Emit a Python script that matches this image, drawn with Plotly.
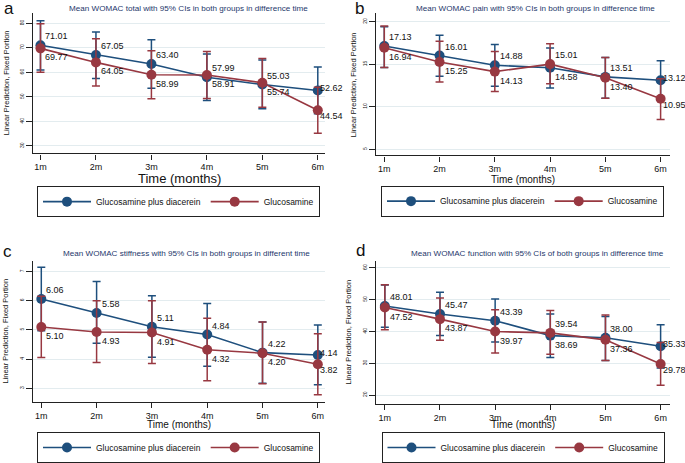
import plotly.graph_objects as go

# ---------------- data ----------------
MONTHS = [1, 2, 3, 4, 5, 6]
TICK_LABELS = ["1m", "2m", "3m", "4m", "5m", "6m"]
SERIES_NAMES = ["Glucosamine plus diacerein", "Glucosamine"]

# panel a: WOMAC total
A_COMBO = [71.01, 67.05, 63.40, 57.99, 55.03, 52.62]
A_COMBO_LO = [61.0, 57.5, 53.5, 48.5, 45.2, 43.1]
A_COMBO_HI = [81.0, 76.4, 73.3, 67.5, 65.0, 62.2]
A_GLU = [69.77, 64.05, 58.99, 58.91, 55.74, 44.54]
A_GLU_LO = [60.0, 54.4, 49.2, 49.3, 45.8, 35.2]
A_GLU_HI = [79.8, 73.7, 68.8, 68.5, 65.6, 53.9]
A_YTICKS = [30, 40, 50, 60, 70, 80]

# panel b: WOMAC pain
B_COMBO = [17.13, 16.01, 14.88, 14.58, 13.51, 13.12]
B_COMBO_LO = [14.6, 13.6, 12.4, 12.2, 11.0, 10.8]
B_COMBO_HI = [19.4, 18.4, 17.3, 16.9, 15.8, 15.4]
B_GLU = [16.94, 15.25, 14.13, 15.01, 13.40, 10.95]
B_GLU_LO = [14.6, 12.9, 11.8, 12.7, 11.0, 8.5]
B_GLU_HI = [19.5, 17.7, 16.5, 17.4, 15.8, 13.3]
B_YTICKS = [5, 10, 15, 20]

# panel c: WOMAC stiffness
C_COMBO = [6.06, 5.58, 5.11, 4.84, 4.22, 4.14]
C_COMBO_LO = [4.97, 4.54, 4.06, 3.75, 3.17, 3.12]
C_COMBO_HI = [7.15, 6.66, 6.17, 5.90, 5.27, 5.17]
C_GLU = [5.10, 4.93, 4.91, 4.32, 4.20, 3.82]
C_GLU_LO = [4.05, 3.88, 3.85, 3.26, 3.15, 2.78]
C_GLU_HI = [6.15, 6.00, 6.00, 5.40, 5.27, 4.87]
C_YTICKS = [3, 4, 5, 6, 7]

# panel d: WOMAC function
D_COMBO = [48.01, 45.47, 43.39, 38.69, 38.00, 35.33]
D_COMBO_LO = [41.3, 38.7, 36.7, 31.8, 30.9, 28.5]
D_COMBO_HI = [54.6, 52.3, 50.2, 45.5, 44.7, 42.1]
D_GLU = [47.52, 43.87, 39.97, 39.54, 37.36, 29.78]
D_GLU_LO = [40.5, 37.2, 33.2, 32.8, 30.9, 23.1]
D_GLU_HI = [54.7, 50.5, 46.8, 46.6, 45.2, 36.5]
D_YTICKS = [20, 30, 40, 50, 60]

TITLES = [
    "Mean WOMAC total with 95% CIs in both groups in difference time",
    "Mean WOMAC pain with 95% CIs in both groups in difference time",
    "Mean WOMAC stiffness with 95% CIs in both groups in different time",
    "Mean WOMAC function with 95% CIs of both groups in difference time",
]
LETTERS = ["a", "b", "c", "d"]
X_TITLE = "Time (months)"
Y_TITLE = "Linear Prediction, Fixed Portion"

# ---------------- style / layout ----------------
W, H = 685, 463
FONT = "Liberation Sans, Arial, sans-serif"
BLUE = "#1e4f7d"
RED = "#983841"
GRID = "#e3ecef"
TITLE_COLOR = "#24376b"

# which series' label sits on top at each month ('c' combo / 'g' glucosamine)
TOP_LABEL = [
    ["c"] * 6,
    ["c", "c", "c", "g", "c", "c"],
    ["c"] * 6,
    ["c", "c", "c", "g", "c", "c"],
]

# pixel boxes: (left, right, top, bottom), x range, y range
PANELS = [
    dict(box=(33, 325, 13, 154), xr=[0.865, 6.13], yr=[27.0, 84.2],
         title_xy=(188, 9), letter_xy=(9, 9), ytitle_x=6, xtitle_y=179, xtitle_size=13,
         legend_c=(178.5, 202.5)),
    dict(box=(376, 670, 13, 156), xr=[0.85, 6.17], yr=[4.3, 21.02],
         title_xy=(535, 9), letter_xy=(359, 9), ytitle_x=353, xtitle_y=180, xtitle_size=10,
         legend_c=(522.5, 202)),
    dict(box=(33, 325, 262, 404), xr=[0.85, 6.13], yr=[2.52, 7.365],
         title_xy=(187, 255), letter_xy=(8, 253), ytitle_x=6, xtitle_y=426, xtitle_size=10,
         legend_c=(178.5, 449.5)),
    dict(box=(376, 670, 262, 406), xr=[0.84, 6.17], yr=[17.1, 62.2],
         title_xy=(537, 255), letter_xy=(360, 252), ytitle_x=349, xtitle_y=426, xtitle_size=10,
         legend_c=(523, 449.5)),
]

DATA = [
    (A_COMBO, A_COMBO_LO, A_COMBO_HI, A_GLU, A_GLU_LO, A_GLU_HI, A_YTICKS),
    (B_COMBO, B_COMBO_LO, B_COMBO_HI, B_GLU, B_GLU_LO, B_GLU_HI, B_YTICKS),
    (C_COMBO, C_COMBO_LO, C_COMBO_HI, C_GLU, C_GLU_LO, C_GLU_HI, C_YTICKS),
    (D_COMBO, D_COMBO_LO, D_COMBO_HI, D_GLU, D_GLU_LO, D_GLU_HI, D_YTICKS),
]


def px(x):
    return x / W


def py(y):
    return 1 - y / H


fig = go.Figure()
annotations = []
layout = {}

for i, (panel, data) in enumerate(zip(PANELS, DATA)):
    combo, combo_lo, combo_hi, glu, glu_lo, glu_hi, yticks = data
    n = "" if i == 0 else str(i + 1)
    xa, ya = "x" + n, "y" + n
    leg = "legend" + n
    l, r, t, b = panel["box"]

    for name, vals, lo, hi, color in [
        (SERIES_NAMES[0], combo, combo_lo, combo_hi, BLUE),
        (SERIES_NAMES[1], glu, glu_lo, glu_hi, RED),
    ]:
        fig.add_trace(go.Scatter(
            x=MONTHS, y=vals, name=name, mode="lines+markers",
            xaxis=xa, yaxis=ya, legend=leg, cliponaxis=False,
            line=dict(color=color, width=1.6),
            marker=dict(color=color, size=10, symbol="circle"),
            error_y=dict(type="data", symmetric=False,
                         array=[h - v for h, v in zip(hi, vals)],
                         arrayminus=[v - lo_ for v, lo_ in zip(vals, lo)],
                         color=color, thickness=1.5, width=4),
            hoverinfo="skip",
        ))

    # data labels
    for k, m in enumerate(MONTHS):
        top_is_combo = TOP_LABEL[i][k] == "c"
        top_v = combo[k] if top_is_combo else glu[k]
        bot_v = glu[k] if top_is_combo else combo[k]
        last = k == len(MONTHS) - 1
        for v, ys in [(top_v, 2 if last else 9), (bot_v, -6 if last else -9)]:
            annotations.append(dict(
                x=m, y=v, xref=xa, yref=ya, text=f"{v:.2f}", showarrow=False,
                xanchor="left", yanchor="middle", xshift=1 if last else 4, yshift=ys,
                borderpad=0,
                font=dict(family=FONT, size=9, color="#111111"),
            ))

    axis_common = dict(showline=True, linecolor="#222222", linewidth=1.4,
                       ticks="outside", tickcolor="#222222", tickwidth=1.2,
                       zeroline=False, mirror=False)
    layout["xaxis" + n] = dict(
        domain=[px(l), px(r)], range=panel["xr"], anchor=ya,
        tickvals=MONTHS, ticktext=TICK_LABELS, ticklen=5, showgrid=False,
        tickfont=dict(family=FONT, size=9, color="#111111"), **axis_common)
    layout["yaxis" + n] = dict(
        domain=[py(b), py(t)], range=panel["yr"], anchor=xa,
        tickvals=yticks, ticklen=6, tickangle=-90, showgrid=True, gridcolor=GRID,
        gridwidth=1, tickfont=dict(family=FONT, size=5, color="#111111"), **axis_common)

    lx, ly = panel["legend_c"]
    layout[leg] = dict(
        x=px(lx), y=py(ly), xanchor="center", yanchor="middle",
        orientation="h", bordercolor="#222222", borderwidth=1, bgcolor="white",
        font=dict(family=FONT, size=8.5, color="#111111"), itemwidth=48,
        itemclick=False, itemdoubleclick=False,
    )

    tx, ty = panel["title_xy"]
    annotations.append(dict(x=px(tx), y=py(ty), xref="paper", yref="paper",
                            text=TITLES[i], showarrow=False, xanchor="center",
                            yanchor="middle",
                            font=dict(family=FONT, size=8.1, color=TITLE_COLOR)))
    lx_, ly_ = panel["letter_xy"]
    annotations.append(dict(x=px(lx_), y=py(ly_), xref="paper", yref="paper",
                            text=LETTERS[i], showarrow=False, xanchor="center",
                            yanchor="middle",
                            font=dict(family=FONT, size=17, color="#111111")))
    annotations.append(dict(x=px(panel["ytitle_x"]), y=py((t + b) / 2), xref="paper",
                            yref="paper", text=Y_TITLE, showarrow=False, textangle=-90,
                            xanchor="center", yanchor="middle",
                            font=dict(family=FONT, size=7.5, color="#111111")))
    annotations.append(dict(x=px((l + r) / 2), y=py(panel["xtitle_y"]), xref="paper",
                            yref="paper", text=X_TITLE, showarrow=False,
                            xanchor="center", yanchor="middle",
                            font=dict(family=FONT, size=panel["xtitle_size"],
                                      color="#111111")))

fig.update_layout(
    width=W, height=H, margin=dict(l=0, r=0, t=0, b=0),
    paper_bgcolor="white", plot_bgcolor="white",
    font=dict(family=FONT, color="#111111"),
    annotations=annotations, **layout,
)

# remove the browser's default 8px body margin so the figure fills the window
fig.write_html("out.html", config={"displayModeBar": False},
               post_script="document.body.style.margin='0px';")
